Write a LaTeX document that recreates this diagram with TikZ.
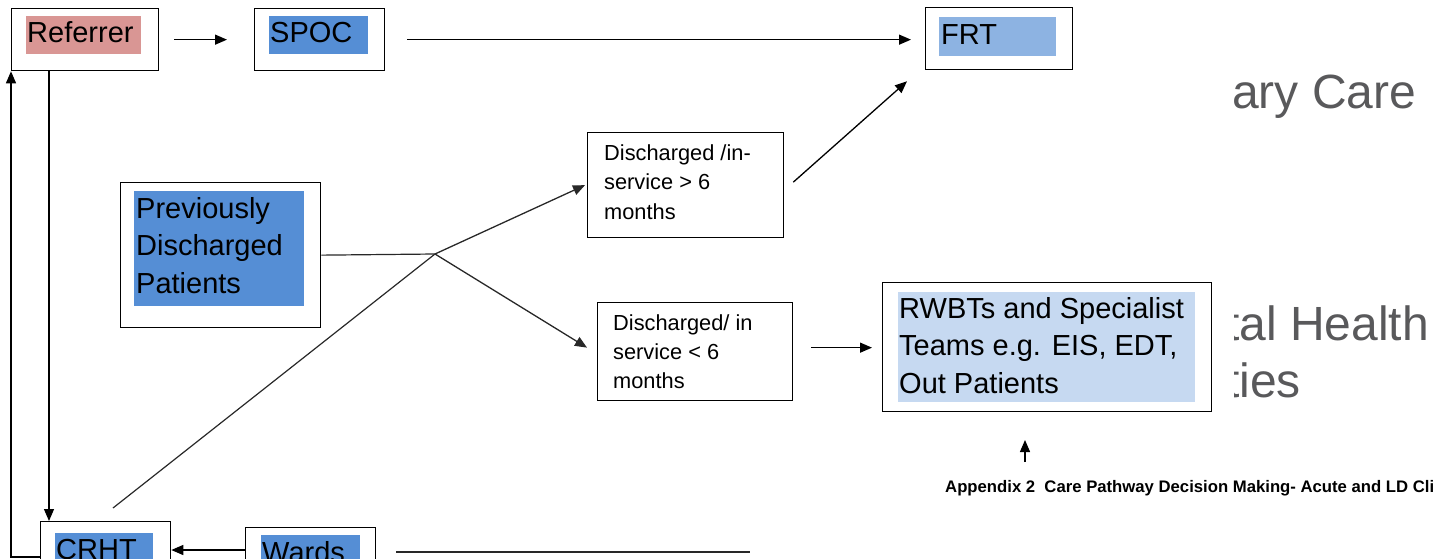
\documentclass[tikz,border=0pt]{standalone}
\usepackage{fontspec}
\setmainfont{Liberation Sans}
\usetikzlibrary{arrows.meta,calc}
\definecolor{pinkhl}{RGB}{217,150,148}
\definecolor{bluehl}{RGB}{85,142,213}
\definecolor{frthl}{RGB}{141,179,226}
\definecolor{lighthl}{RGB}{198,217,241}
\definecolor{greytext}{RGB}{89,89,91}
\definecolor{linegrey}{RGB}{40,40,40}
\newcommand\fsBig{\fontsize{29}{34}\selectfont}
\newcommand\fsSmall{\fontsize{21.8}{26}\selectfont}
\newcommand\fsHuge{\fontsize{48}{58}\selectfont}
\newcommand\fsNote{\fontsize{16.7}{20}\selectfont\bfseries}
\tikzset{
  box/.style={draw, line width=1.3pt, inner sep=0pt, anchor=north west, fill=white},
  bigtxt/.style={inner sep=0pt, anchor=base west, font=\fsBig},
  smalltxt/.style={inner sep=0pt, anchor=base west, font=\fsSmall},
  hugetxt/.style={inner sep=0pt, anchor=base west, font=\fsHuge, text=greytext},
  arr/.style={line width=1.3pt, -{Triangle[length=12pt,width=10pt]}},
  plain/.style={line width=1.2pt, draw=linegrey},
}
\begin{document}
\begin{tikzpicture}[x=1pt,y=-1pt]
\useasboundingbox (0,0) rectangle (1434,559);
\begin{scope}
\clip (0,0) rectangle (1434,559);
% background grey text, partly hidden
\begin{scope}
\clip (1234.5,0) rectangle (1434,559);
\node[hugetxt] (care) at (1232,109) {ary Care};
\node[hugetxt] (health) at (1226,340) {tal Health};
\node[hugetxt] (ties) at (1226,397) {ties};
\end{scope}

% boxes
\node[box, minimum width=147, minimum height=62] (ref) at (11,8) {};
\node[box, minimum width=130, minimum height=62] (spoc) at (254,8) {};
\node[box, minimum width=147, minimum height=62] (frt) at (925,7) {};
\node[box, minimum width=200, minimum height=145] (pdp) at (120,182) {};
\node[box, minimum width=196, minimum height=105] (gt6) at (587,132) {};
\node[box, minimum width=195, minimum height=98] (lt6) at (597,302) {};
\node[box, minimum width=329, minimum height=129] (rwbt) at (882,282) {};
\node[box, minimum width=130, minimum height=80] (crht) at (40,521) {};
\node[box, minimum width=130, minimum height=80] (wards) at (245,527) {};

% highlights
\fill[pinkhl] (26,16) rectangle (141,54);
\fill[bluehl] (269,16) rectangle (368,54);
\fill[frthl] (939,17) rectangle (1056,56);
\fill[bluehl] (134,191) rectangle (304,306);
\fill[lighthl] (898,292) rectangle (1195,402);
\fill[bluehl] (55,533) rectangle (153,600);
\fill[bluehl] (261,535) rectangle (360,600);

% texts
\node[bigtxt] (refT) at (27,43) {Referrer};
\node[bigtxt] (spocT) at (270,43) {SPOC};
\node[bigtxt] (frtT) at (941,45) {FRT};
\node[bigtxt] (pdpA) at (136,218) {Previously};
\node[bigtxt] (pdpB) at (136,255.5) {Discharged};
\node[bigtxt] (pdpC) at (136,293) {Patients};
\node[smalltxt] (gtA) at (604,160) {Discharged /in-};
\node[smalltxt] (gtB) at (604,189.5) {service > 6};
\node[smalltxt] (gtC) at (604,219) {months};
\node[smalltxt] (ltA) at (613,330) {Discharged/ in};
\node[smalltxt] (ltB) at (613,359) {service < 6};
\node[smalltxt] (ltC) at (613,388) {months};
\node[bigtxt] (rwA) at (899,318) {RWBTs and Specialist};
\node[bigtxt] (rwB) at (899,355.5) {Teams e.g. EIS, EDT,};
\node[bigtxt] (rwC) at (899,393) {Out Patients};
\node[bigtxt] (crhtT) at (56,559) {CRHT};
\node[bigtxt] (wardsT) at (262,562) {Wards};
\node[inner sep=0pt, anchor=base west, font=\fsNote] (note) at (945,492) {Appendix 2~ Care Pathway Decision Making- Acute and LD Cli};

% connector points
\coordinate (j) at (435,254);
\coordinate (cs) at (113,508);
\coordinate (cl) at (11,557);
\coordinate (wy) at (0,550);
\coordinate (wr) at (750,552);
\coordinate (ua1) at (1025,462);
\coordinate (ua2) at (1025,440);
\coordinate (rd) at ($(ref.south west)+(38,0)$);

% connectors
\draw[arr, shorten <=15pt, shorten >=27pt] (ref.east) -- (spoc.west);
\draw[arr, shorten <=22pt, shorten >=14pt] (spoc.east) -- (frt.west |- spoc.east);
\draw[arr] ($(gt6.east)+(9,-3)$) -- ($(frt.south west)+(-18,11)$);
\draw[plain] (pdp.east) -- (j);
\draw[plain] (cs) -- (j);
\draw[arr, draw=linegrey] (j) -- ($(gt6.west)+(-2,0)$);
\draw[arr, draw=linegrey] (j) -- ($(lt6.west)+(-10,-4)$);
\draw[arr] ($(lt6.east)+(18,-4)$) -- ($(rwbt.west)+(-10,0.5)$);
\draw[arr] (rd) -- (rd |- crht.north);
\draw[arr] (crht.west |- cl) -- (cl) -- (ref.south west);
\draw[arr] (wards.west |- wy) -- (crht.east |- wy);
\draw[plain] ($(wards.east |- wr)+(20,0)$) -- (wr);
\draw[arr] (ua1) -- (ua2);
\end{scope}
\end{tikzpicture}
\end{document}
